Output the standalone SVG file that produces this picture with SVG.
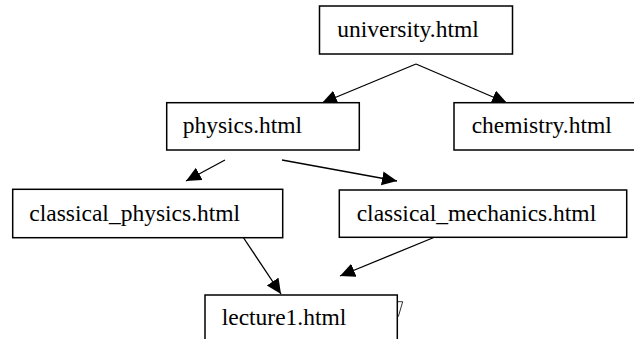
<svg xmlns="http://www.w3.org/2000/svg" width="634" height="339" viewBox="0 0 634 339">
  <style>
    .box { fill: #ffffff; stroke: #000000; stroke-width: 1.5; }
    .edge { fill: none; stroke: #000000; stroke-width: 1.3; marker-end: url(#head); }
  </style>
  <defs>
    <marker id="head" markerUnits="userSpaceOnUse" markerWidth="16" markerHeight="15" refX="15" refY="7" orient="auto">
      <path d="M0,0 L15,7 L0,14 z" fill="#000000"/>
    </marker>
  </defs>
  <rect width="634" height="339" fill="#ffffff"/>

  <!-- page links -->
  <g id="edges">
    <path class="edge" d="M416,64 L322,103"/>
    <path class="edge" d="M416,64 L507,103"/>
    <path class="edge" d="M225,160 L186,181"/>
    <path class="edge" d="M282,160 L397,181"/>
    <path class="edge" d="M243,237 L281,294"/>
    <path class="edge" d="M435,237 L340,276"/>
  </g>

  <!-- page nodes; labels share one serif face -->
  <g font-family="'Liberation Serif', 'DejaVu Serif', serif" font-size="23.5" fill="#000000">
    <g id="university">
      <rect class="box" x="319.5" y="6" width="193" height="48"/>
      <text x="337.3" y="36.5">university.html</text>
    </g>

    <g id="physics">
      <rect class="box" x="166.7" y="102.7" width="192.6" height="47.3"/>
      <text x="182.7" y="133.3">physics.html</text>
    </g>

    <g id="chemistry">
      <rect class="box" x="454" y="102.7" width="200" height="47.3"/>
      <text x="471.7" y="133.3">chemistry.html</text>
    </g>

    <g id="classical_physics">
      <rect class="box" x="12.7" y="189.3" width="270" height="48.4"/>
      <text x="29.3" y="220.7">classical_physics.html</text>
    </g>

    <g id="classical_mechanics">
      <rect class="box" x="339.3" y="190" width="287.4" height="47.3"/>
      <text x="356.7" y="220.5">classical_mechanics.html</text>
    </g>

    <g id="lecture1">
      <polyline points="397.3,301.7 402.7,301.7 398.3,316.7" fill="none" stroke="#333333" stroke-width="1"/>
      <rect class="box" x="205" y="295" width="192.3" height="60"/>
      <text x="221.7" y="325">lecture1.html</text>
    </g>
  </g>
</svg>
